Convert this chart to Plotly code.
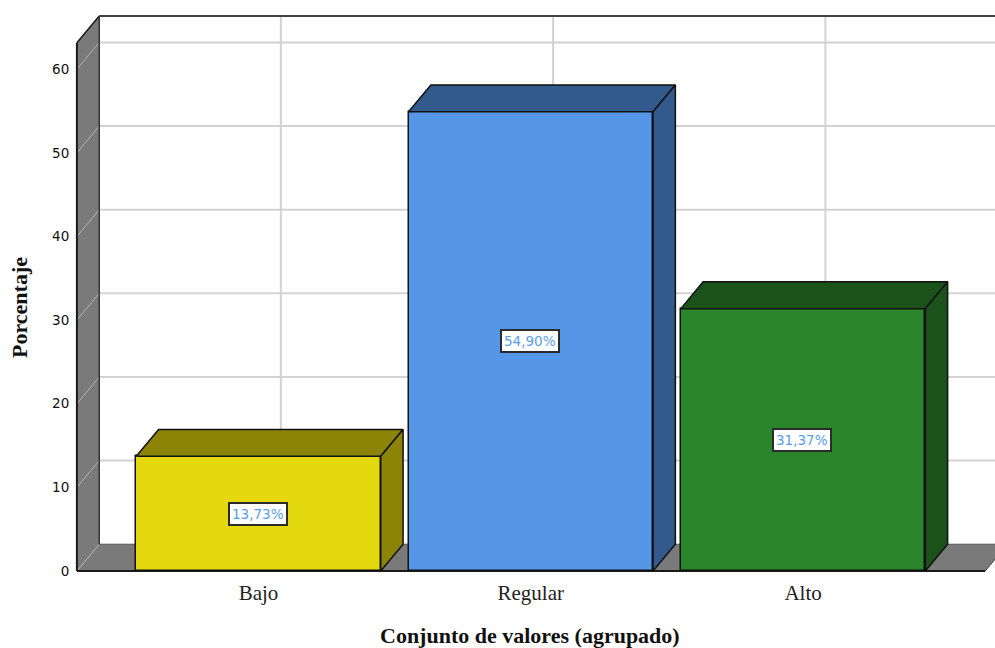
import plotly.graph_objects as go

# Survey result: percentage per grouped value range
categories = ["Bajo", "Regular", "Alto"]
percentages = [13.73, 54.90, 31.37]
value_labels = ["13,73%", "54,90%", "31,37%"]
y_ticks = [0, 10, 20, 30, 40, 50, 60]

front_colors = ["#E4D80E", "#5596E6", "#2A862A"]
shade_colors = ["#8C8407", "#325A8C", "#1A521A"]
label_color = "#5B9CEB"

WALL = "#7A7A7A"
GRID = "#D2D2D2"
EDGE = "#1A1A1A"
BAR_WIDTH = 0.898

# Oblique projection used for the box look, in axis units
DX = 0.082
DY = 3.2
X_MIN, X_MAX = -0.667, 2.669
Y_TOP = 63.16

WIDTH, HEIGHT = 995, 648
M_L, M_R, M_T, M_B = 75, 0, 12, 72

positions = list(range(len(categories)))
fig = go.Figure()


def polygon(points, fill, line=None, width=0):
    path = "M " + " L ".join(f"{x} {y}" for x, y in points) + " Z"
    fig.add_shape(type="path", path=path, fillcolor=fill, layer="below",
                  line=dict(color=line or fill, width=width))


def segment(x0, y0, x1, y1, color, width):
    fig.add_shape(type="line", x0=x0, y0=y0, x1=x1, y1=y1, layer="below",
                  line=dict(color=color, width=width))


# Back wall grid
for tick in y_ticks[1:]:
    segment(X_MIN + DX, tick + DY, X_MAX + DX, tick + DY, GRID, 2)
for pos in positions:
    segment(pos + DX, DY, pos + DX, Y_TOP + DY, GRID, 2)

# Left wall and floor
polygon([(X_MIN, 0), (X_MIN + DX, DY), (X_MIN + DX, Y_TOP + DY), (X_MIN, Y_TOP)], WALL)
polygon([(X_MIN, 0), (X_MIN + DX, DY), (X_MAX + DX, DY), (X_MAX, 0)], WALL)
for tick in y_ticks[1:]:
    segment(X_MIN, tick, X_MIN + DX, tick + DY, "#B4B4B4", 1)
segment(X_MIN, 0, X_MIN + DX, DY, "#B4B4B4", 1)

# Box outline of the chart area
segment(X_MIN, 0, X_MIN, Y_TOP, EDGE, 2)
segment(X_MIN, Y_TOP, X_MIN + DX, Y_TOP + DY, EDGE, 1.5)
segment(X_MIN + DX, DY, X_MIN + DX, Y_TOP + DY, "#333333", 1.5)
segment(X_MIN + DX, Y_TOP + DY, 3, Y_TOP + DY, "#404040", 2)
segment(X_MIN, 0, X_MAX, 0, EDGE, 2)
segment(X_MAX, 0, X_MAX + DX, DY, "#404040", 1)
segment(X_MIN + DX, DY, 3, DY, "#555555", 1)

# Front faces
fig.add_bar(x=positions, y=percentages, width=BAR_WIDTH,
            marker=dict(color=front_colors, line=dict(color="#111111", width=1.5)),
            hoverinfo="skip", showlegend=False)

# Top and side faces follow each bar's value
half = BAR_WIDTH / 2
for pos, value, shade in zip(positions, percentages, shade_colors):
    top_x = [pos - half, pos - half + DX, pos + half + DX, pos + half, pos - half]
    top_y = [value, value + DY, value + DY, value, value]
    side_x = [pos + half, pos + half + DX, pos + half + DX, pos + half, pos + half]
    side_y = [value, value + DY, DY, 0, value]
    for xs, ys in ((top_x, top_y), (side_x, side_y)):
        fig.add_scatter(x=xs, y=ys, mode="lines", fill="toself", fillcolor=shade,
                        line=dict(color="#111111", width=1.5),
                        hoverinfo="skip", showlegend=False)

# Value labels centred on the front faces
for pos, value, text in zip(positions, percentages, value_labels):
    fig.add_annotation(x=pos, y=value / 2, text=text, showarrow=False,
                       xshift=-1,
                       font=dict(family="DejaVu Sans", size=13.5, color=label_color),
                       bgcolor="white", bordercolor="#2B2B2B", borderwidth=2, borderpad=2)

# Axis titles
fig.add_annotation(xref="paper", yref="paper", x=(530 - M_L) / (WIDTH - M_L - M_R),
                   y=1 - (635 - M_T) / (HEIGHT - M_T - M_B),
                   xanchor="center", yanchor="middle",
                   text="<b>Conjunto de valores (agrupado)</b>", showarrow=False,
                   font=dict(family="Liberation Serif", size=22, color="#111111"))
fig.add_annotation(xref="paper", yref="paper", x=(19 - M_L) / (WIDTH - M_L - M_R),
                   y=1 - (308 - M_T) / (HEIGHT - M_T - M_B),
                   xanchor="center", yanchor="middle",
                   text="<b>Porcentaje</b>", textangle=-90, showarrow=False,
                   font=dict(family="Liberation Serif", size=22, color="#111111"))

fig.update_layout(
    width=WIDTH, height=HEIGHT,
    margin=dict(l=M_L, r=M_R, t=M_T, b=M_B, autoexpand=False),
    paper_bgcolor="white", plot_bgcolor="white", bargap=0,
    xaxis=dict(range=[-0.674, 2.705], tickmode="array", tickvals=positions,
               ticktext=categories, showgrid=False, zeroline=False, showline=False,
               ticks="", ticklabelstandoff=2,
               tickfont=dict(family="Liberation Serif", size=21, color="#222222")),
    yaxis=dict(range=[-0.6, 66.84], tickmode="array", tickvals=y_ticks,
               showgrid=False, zeroline=False, showline=False,
               ticks="outside", ticklen=2, tickcolor="rgba(0,0,0,0)",
               tickfont=dict(family="DejaVu Sans", size=13.5, color="#111111")),
)

fig.write_html("out.html", config={"displayModeBar": False})
